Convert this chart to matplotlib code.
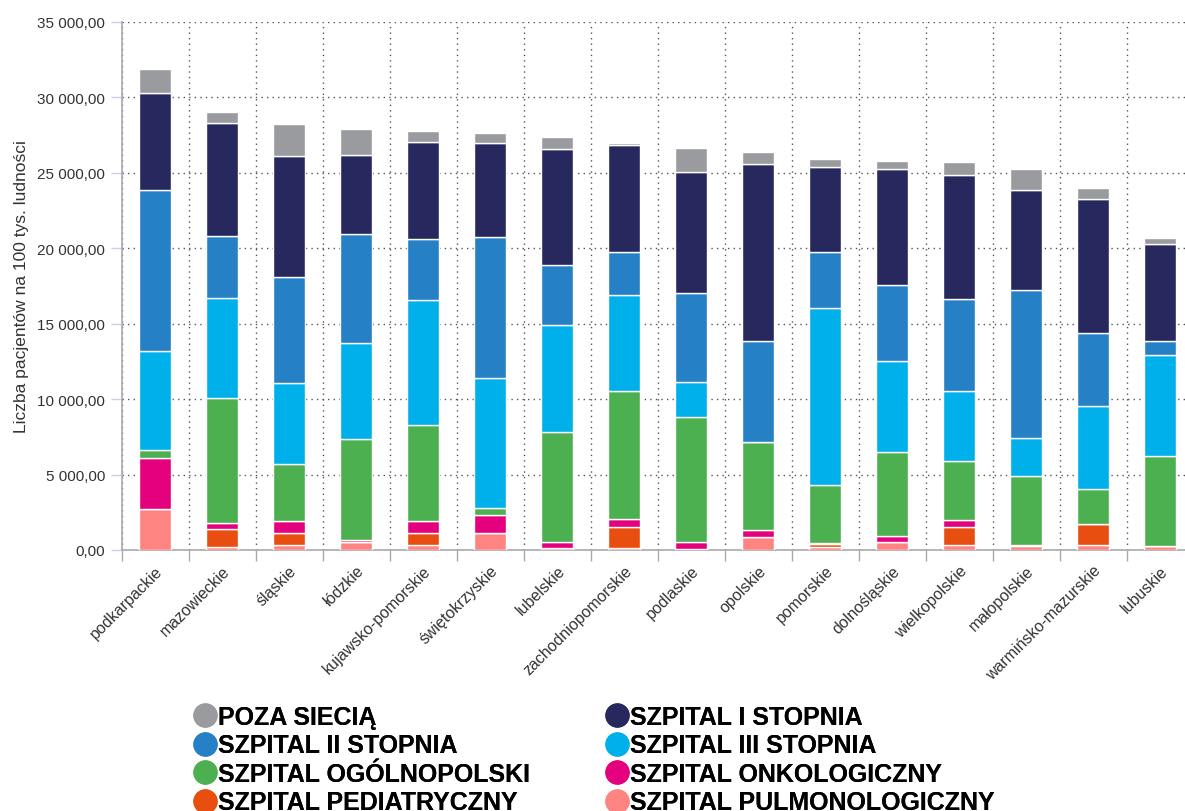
import matplotlib.pyplot as plt
from matplotlib.lines import Line2D
from matplotlib.ticker import FuncFormatter, MultipleLocator
import numpy as np

plt.rcParams['font.family'] = ['Liberation Sans', 'DejaVu Sans']

regions = ['podkarpackie', 'mazowieckie', 'śląskie', 'łódzkie', 'kujawsko-pomorskie',
           'świętokrzyskie', 'lubelskie', 'zachodniopomorskie', 'podlaskie', 'opolskie',
           'pomorskie', 'dolnośląskie', 'wielkopolskie', 'małopolskie',
           'warmińsko-mazurskie', 'lubuskie']

# segment values, stacked bottom -> top
pulmonologiczny = [2700, 200, 350, 550, 350, 1150, 100, 150, 50, 850, 200, 550, 300, 250, 300, 250]
pediatryczny = [0, 1200, 750, 0, 800, 0, 0, 1350, 0, 0, 200, 0, 1250, 50, 1400, 0]
onkologiczny = [3400, 400, 800, 100, 750, 1200, 450, 550, 500, 450, 50, 400, 450, 0, 0, 0]
ogolnopolski = [500, 8300, 3800, 6700, 6400, 400, 7250, 8500, 8250, 5850, 3850, 5550, 3900, 4600, 2350, 5950]
stopien_3 = [6600, 6600, 5350, 6350, 8250, 8650, 7100, 6350, 2350, 0, 11700, 6050, 4650, 2550, 5500, 6700]
stopien_2 = [10650, 4100, 7050, 7250, 4050, 9350, 3950, 2850, 5850, 6700, 3750, 5000, 6050, 9800, 4850, 950]
stopien_1 = [6400, 7500, 8000, 5250, 6450, 6200, 7700, 7050, 8050, 11700, 5650, 7700, 8250, 6600, 8850, 6450]
poza_siecia = [1600, 750, 2150, 1700, 700, 700, 800, 150, 1550, 800, 500, 500, 850, 1400, 750, 400]

series = [
    ('SZPITAL PULMONOLOGICZNY', pulmonologiczny, '#fd8480'),
    ('SZPITAL PEDIATRYCZNY', pediatryczny, '#e84e10'),
    ('SZPITAL ONKOLOGICZNY', onkologiczny, '#e5007e'),
    ('SZPITAL OGÓLNOPOLSKI', ogolnopolski, '#4caf50'),
    ('SZPITAL III STOPNIA', stopien_3, '#00b0ea'),
    ('SZPITAL II STOPNIA', stopien_2, '#2580c5'),
    ('SZPITAL I STOPNIA', stopien_1, '#26285e'),
    ('POZA SIECIĄ', poza_siecia, '#9a9b9e'),
]

W, H = 1185, 812
fig = plt.figure(figsize=(W / 100, H / 100), dpi=100)
ax = fig.add_axes([121.7 / W, 1 - 551 / H, (67 * 16) / W, (551 - 22.7) / H])

x = np.arange(len(regions))
bottom = np.zeros(len(regions))
for name, vals, color in series:
    vals = np.array(vals, dtype=float)
    ax.bar(x, vals, 0.48, bottom=bottom, color=color, edgecolor='white',
           linewidth=1.0, label=name, zorder=3)
    bottom += vals

ax.set_xlim(-0.5, len(regions) - 0.5)
ax.set_ylim(0, 35000)

ax.yaxis.set_major_locator(MultipleLocator(5000))
ax.yaxis.set_major_formatter(FuncFormatter(
    lambda v, p: f'{v:,.2f}'.replace(',', ' ').replace('.', ',')))
ax.tick_params(axis='y', length=8, width=1, color='#c8d0ea', labelsize=11,
               labelcolor='#333333', pad=4)

ax.set_xticks(x)
ax.set_xticklabels(regions, rotation=45, ha='right', rotation_mode='anchor',
                   fontsize=11.5, color='#333333')
ax.set_xticks(np.arange(-0.5, len(regions)), minor=True)
ax.tick_params(axis='x', which='major', length=0, pad=9)
ax.tick_params(axis='x', which='minor', length=8, width=1, color='#aaaaaa')

ax.grid(axis='y', which='major', linestyle=(0, (1, 3)), color='#555555', linewidth=1, zorder=0)
ax.grid(axis='x', which='minor', linestyle=(0, (1, 3)), color='#555555', linewidth=1, zorder=0)
ax.set_axisbelow(True)

for s in ['top', 'right']:
    ax.spines[s].set_visible(False)
for s in ['left', 'bottom']:
    ax.spines[s].set_color('#aaaaaa')
    ax.spines[s].set_linewidth(1.2)

ax.set_ylabel('Liczba pacjentów na 100 tys. ludności', fontsize=12.5, color='#333333', labelpad=6)

# legend: two columns, placed separately
colors = {name: c for name, _, c in series}
columns = [(['POZA SIECIĄ', 'SZPITAL II STOPNIA', 'SZPITAL OGÓLNOPOLSKI', 'SZPITAL PEDIATRYCZNY'], 189),
           (['SZPITAL I STOPNIA', 'SZPITAL III STOPNIA', 'SZPITAL ONKOLOGICZNY', 'SZPITAL PULMONOLOGICZNY'], 601)]
for names, xpos in columns:
    handles = [Line2D([], [], marker='o', linestyle='', markersize=16.5,
                      markerfacecolor=colors[n], markeredgecolor=colors[n]) for n in names]
    leg = fig.legend(handles, names, loc='upper left', bbox_to_anchor=(xpos / W, 1 - 706 / H),
                     frameon=False, handletextpad=-0.15, handlelength=1.3, labelspacing=0.18,
                     borderpad=0, borderaxespad=0,
                     prop={'family': 'Liberation Sans', 'weight': 'bold', 'size': 18})
    fig.add_artist(leg)

fig.savefig('out.png', dpi=100)
